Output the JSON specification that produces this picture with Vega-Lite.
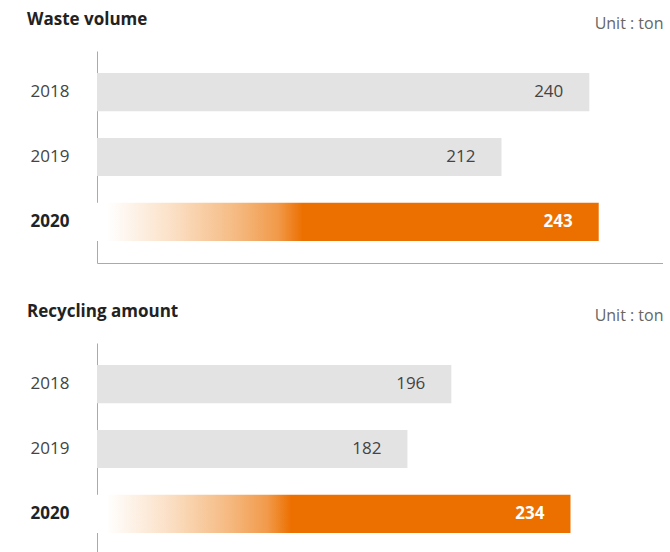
{
  "$schema": "https://vega.github.io/schema/vega-lite/v6.json",
  "padding": {"left": 27, "top": 10, "right": 0, "bottom": 0},
  "background": "white",
  "datasets": {
    "waste": [
      {"year": "2018", "value": 240},
      {"year": "2019", "value": 212},
      {"year": "2020", "value": 243}
    ],
    "recycling": [
      {"year": "2018", "value": 196},
      {"year": "2019", "value": 182},
      {"year": "2020", "value": 234}
    ]
  },
  "spacing": 39,
  "vconcat": [
    {
      "title": {"text": "Waste volume"},
      "data": {"name": "waste"},
      "width": 566,
      "height": 212,
      "resolve": {"axis": {"x": "independent"}},
      "layer": [
        {
          "transform": [{"filter": "datum.year != '2020'"}],
          "mark": {"type": "bar", "color": "#e3e3e3"},
          "encoding": {
            "y": {"field": "year", "type": "nominal", "sort": ["2018", "2019", "2020"],
                  "scale": {"domain": ["2018", "2019", "2020"], "paddingInner": 0.413, "paddingOuter": 0.34},
                  "axis": {"title": null, "ticks": false, "tickSize": 0, "labelAlign": "left", "labelBaseline": "middle", "labelPadding": 67,
                           "domainColor": "#aaaaaa", "labelFont": "Open Sans", "labelFontSize": 17,
                           "labelColor": {"condition": {"test": "datum.value == '2020'", "value": "#222222"}, "value": "#444444"},
                           "labelFontWeight": {"condition": {"test": "datum.value == '2020'", "value": "bold"}, "value": "normal"}}},
            "x": {"field": "value", "type": "quantitative",
                  "scale": {"domain": [83, 263.5], "zero": false, "nice": false},
                  "axis": {"orient": "top", "domain": false, "ticks": false, "labels": false, "grid": false,
                           "title": "Unit : ton", "titleAnchor": "end", "titleFont": "Open Sans", "titleFontSize": 16,
                           "titleFontWeight": "normal", "titleColor": "#666666", "titlePadding": 20}},
            "x2": {"datum": 83}
          }
        },
        {
          "transform": [{"filter": "datum.year == '2020'"}],
          "mark": {"type": "bar", "color": {"gradient": "linear", "x1": 0, "x2": 1, "y1": 0, "y2": 0,
            "stops": [
              {"offset": 0, "color": "#ffffff"},
              {"offset": 0.02, "color": "#ffffff"},
              {"offset": 0.15, "color": "#fbe0c6"},
              {"offset": 0.28, "color": "#f5b980"},
              {"offset": 0.36, "color": "#f19a4a"},
              {"offset": 0.41, "color": "#ec7000"},
              {"offset": 1, "color": "#ec7000"}
            ]}},
          "encoding": {
            "y": {"field": "year", "type": "nominal", "sort": ["2018", "2019", "2020"]},
            "x": {"field": "value", "type": "quantitative",
                  "axis": {"orient": "bottom", "domain": true, "domainColor": "#aaaaaa", "ticks": false, "labels": false, "grid": false, "title": null}},
            "x2": {"datum": 83}
          }
        },
        {
          "transform": [{"filter": "datum.year != '2020'"}],
          "mark": {"type": "text", "align": "right", "baseline": "middle", "dx": -26, "font": "Open Sans", "fontSize": 17, "color": "#444444"},
          "encoding": {
            "y": {"field": "year", "type": "nominal", "sort": ["2018", "2019", "2020"]},
            "x": {"field": "value", "type": "quantitative", "axis": null},
            "text": {"field": "value"}
          }
        },
        {
          "transform": [{"filter": "datum.year == '2020'"}],
          "mark": {"type": "text", "align": "right", "baseline": "middle", "dx": -26, "font": "Open Sans", "fontSize": 17, "fontWeight": "bold", "color": "#ffffff"},
          "encoding": {
            "y": {"field": "year", "type": "nominal", "sort": ["2018", "2019", "2020"]},
            "x": {"field": "value", "type": "quantitative", "axis": null},
            "text": {"field": "value"}
          }
        }
      ]
    },
    {
      "title": {"text": "Recycling amount"},
      "data": {"name": "recycling"},
      "width": 566,
      "height": 212,
      "resolve": {"axis": {"x": "independent"}},
      "layer": [
        {
          "transform": [{"filter": "datum.year != '2020'"}],
          "mark": {"type": "bar", "color": "#e3e3e3"},
          "encoding": {
            "y": {"field": "year", "type": "nominal", "sort": ["2018", "2019", "2020"],
                  "scale": {"domain": ["2018", "2019", "2020"], "paddingInner": 0.413, "paddingOuter": 0.34},
                  "axis": {"title": null, "ticks": false, "tickSize": 0, "labelAlign": "left", "labelBaseline": "middle", "labelPadding": 67,
                           "domainColor": "#aaaaaa", "labelFont": "Open Sans", "labelFontSize": 17,
                           "labelColor": {"condition": {"test": "datum.value == '2020'", "value": "#222222"}, "value": "#444444"},
                           "labelFontWeight": {"condition": {"test": "datum.value == '2020'", "value": "bold"}, "value": "normal"}}},
            "x": {"field": "value", "type": "quantitative",
                  "scale": {"domain": [83, 263.5], "zero": false, "nice": false},
                  "axis": {"orient": "top", "domain": false, "ticks": false, "labels": false, "grid": false,
                           "title": "Unit : ton", "titleAnchor": "end", "titleFont": "Open Sans", "titleFontSize": 16,
                           "titleFontWeight": "normal", "titleColor": "#666666", "titlePadding": 20}},
            "x2": {"datum": 83}
          }
        },
        {
          "transform": [{"filter": "datum.year == '2020'"}],
          "mark": {"type": "bar", "color": {"gradient": "linear", "x1": 0, "x2": 1, "y1": 0, "y2": 0,
            "stops": [
              {"offset": 0, "color": "#ffffff"},
              {"offset": 0.02, "color": "#ffffff"},
              {"offset": 0.15, "color": "#fbe0c6"},
              {"offset": 0.28, "color": "#f5b980"},
              {"offset": 0.36, "color": "#f19a4a"},
              {"offset": 0.41, "color": "#ec7000"},
              {"offset": 1, "color": "#ec7000"}
            ]}},
          "encoding": {
            "y": {"field": "year", "type": "nominal", "sort": ["2018", "2019", "2020"]},
            "x": {"field": "value", "type": "quantitative",
                  "axis": {"orient": "bottom", "domain": true, "domainColor": "#aaaaaa", "ticks": false, "labels": false, "grid": false, "title": null}},
            "x2": {"datum": 83}
          }
        },
        {
          "transform": [{"filter": "datum.year != '2020'"}],
          "mark": {"type": "text", "align": "right", "baseline": "middle", "dx": -26, "font": "Open Sans", "fontSize": 17, "color": "#444444"},
          "encoding": {
            "y": {"field": "year", "type": "nominal", "sort": ["2018", "2019", "2020"]},
            "x": {"field": "value", "type": "quantitative", "axis": null},
            "text": {"field": "value"}
          }
        },
        {
          "transform": [{"filter": "datum.year == '2020'"}],
          "mark": {"type": "text", "align": "right", "baseline": "middle", "dx": -26, "font": "Open Sans", "fontSize": 17, "fontWeight": "bold", "color": "#ffffff"},
          "encoding": {
            "y": {"field": "year", "type": "nominal", "sort": ["2018", "2019", "2020"]},
            "x": {"field": "value", "type": "quantitative", "axis": null},
            "text": {"field": "value"}
          }
        }
      ]
    }
  ],
  "config": {
    "view": {"stroke": null},
    "title": {"font": "Open Sans", "fontSize": 17, "fontWeight": "bold", "color": "#222222", "anchor": "start", "frame": "bounds", "offset": -13.5, "dx": -3}
  }
}
